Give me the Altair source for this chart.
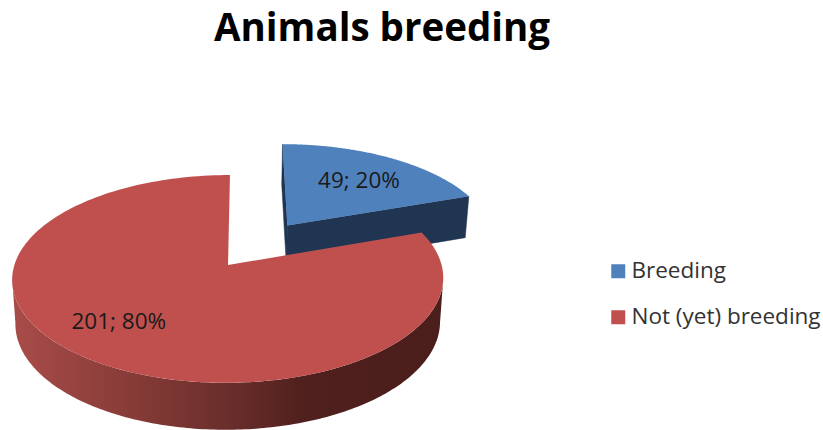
import math
import altair as alt

categories = ["Breeding", "Not (yet) breeding"]
counts = [49, 201]
face_colors = ["#4f81bd", "#c0504d"]

TITLE_H = 56
CX, CY = 228.0, 265.0      # centre of the disc on the page
RX, RY, PERSP = 213.6, 102.0, 0.134
LEAN = 0.022               # slight horizontal lean of the view
EXPLODE = 0.5              # how far the first slice is pulled out
SX, SY, SHIFT = 0.985, 1.03, 35.5   # lower rim relative to upper rim
FONT = "Open Sans"


def project(u, v):
    w = 1 + PERSP * v
    y = CY - RY * v / w
    return [CX + RX * u / w - LEAN * (y - CY), y]


def lower(p):
    return [CX + SX * (p[0] - CX), SY * p[1] + SHIFT]


def rim(a0, a1, ou=0.0, ov=0.0, n=180):
    pts = []
    for i in range(n + 1):
        t = math.radians(a0 + (a1 - a0) * i / n)
        pts.append(project(ou + math.sin(t), ov + math.cos(t)))
    return pts


def feature(name, ring):
    ring = ring + [ring[0]]
    return {
        "type": "Feature",
        "properties": {"name": name},
        "geometry": {"type": "Polygon", "coordinates": [ring]},
    }


total = sum(counts)
split = 360 * counts[0] / total
mid = math.radians(split / 2)
ou, ov = EXPLODE * math.sin(mid), EXPLODE * math.cos(mid)

# upper faces of both slices
blue_apex = project(ou, ov)
blue_arc = rim(0, split, ou, ov)
red_apex = project(0, 0)
red_arc = rim(split, 360)
faces = [
    feature(categories[0], [blue_apex] + blue_arc),
    feature(categories[1], [red_apex] + red_arc),
]

# cut walls of the pulled-out slice
blue_end = blue_arc[-1]
blue_start = blue_arc[0]
blue_walls = [
    feature("cut end", [blue_apex, blue_end, lower(blue_end), lower(blue_apex)]),
    feature("cut start", [blue_apex, blue_start, lower(blue_start), lower(blue_apex)]),
]

# outer wall of the large slice: only the front half shows, between the
# two points where the rim turns back
tangent = math.degrees(math.acos(-PERSP))
front_arc = rim(tangent, 360 - tangent)
red_wall = [feature("rim", front_arc + [lower(p) for p in reversed(front_arc)])]

wall_gradient = alt.Gradient(
    gradient="linear",
    x1=0, x2=1, y1=0, y2=0,
    stops=[
        alt.GradientStop(color="#a94c49", offset=0.0),
        alt.GradientStop(color="#8a3d39", offset=0.25),
        alt.GradientStop(color="#6a2e2b", offset=0.5),
        alt.GradientStop(color="#4f201d", offset=0.68),
        alt.GradientStop(color="#4b1e1b", offset=1.0),
    ],
)

identity = dict(type="identity", scale=1, translate=[0, -TITLE_H], reflectY=False)

blue_wall_layer = (
    alt.Chart(alt.Data(values=blue_walls))
    .mark_geoshape(fill="#1f3552", stroke="#1f3552", strokeWidth=0.5)
    .project(**identity)
)
red_wall_layer = (
    alt.Chart(alt.Data(values=red_wall))
    .mark_geoshape(fill=wall_gradient, strokeWidth=0)
    .project(**identity)
)
face_layer = (
    alt.Chart(alt.Data(values=faces))
    .mark_geoshape(strokeWidth=0)
    .encode(
        color=alt.Color(
            "properties.name:N",
            scale=alt.Scale(domain=categories, range=face_colors),
            legend=alt.Legend(
                title=None,
                orient="none",
                legendX=607,
                legendY=204,
                symbolType="square",
                symbolSize=196,
                symbolStrokeWidth=0,
                labelFont=FONT,
                labelFontSize=22.5,
                labelColor="#333333",
                labelOffset=2,
                labelLimit=260,
                rowPadding=23,
            ),
        )
    )
    .project(**identity)
)

# value labels sit on the slices, placed in disc coordinates
anchors = [project(ou + 0.391, ov + 0.518), project(-0.47, -0.52)]
labels = [
    {
        "label": f"{c}; {round(100 * c / total)}%",
        "lon": a[0],
        "lat": a[1],
    }
    for c, a in zip(counts, anchors)
]
label_layer = (
    alt.Chart(alt.Data(values=labels))
    .mark_text(font=FONT, fontSize=22.5, color="#1a1a1a", align="center", baseline="middle")
    .encode(longitude="lon:Q", latitude="lat:Q", text="label:N")
    .project(**identity)
)

chart = (
    alt.layer(blue_wall_layer, red_wall_layer, face_layer, label_layer)
    .properties(
        width=823,
        height=430 - TITLE_H,
        autosize="none",
        padding={"left": 0, "right": 0, "top": TITLE_H, "bottom": 0},
        background="white",
        title=alt.TitleParams(
            "Animals breeding",
            font=FONT,
            fontSize=38.5,
            fontWeight="bold",
            color="#000000",
            anchor="start",
            dx=214,
            offset=7,
        ),
    )
    .configure_view(stroke=None)
)

chart.save("out.html", embed_options={"renderer": "svg", "actions": False})
